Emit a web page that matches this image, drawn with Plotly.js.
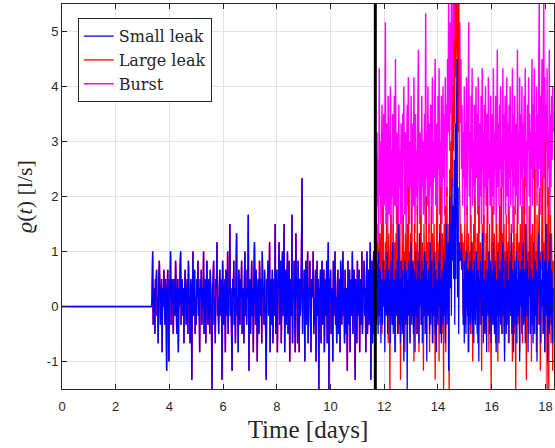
<!DOCTYPE html>
<html>
<head>
<meta charset="utf-8">
<script src="https://cdn.plot.ly/plotly-3.0.1.min.js"></script>
<style>html,body{margin:0;padding:0;background:#fff;}#chart{width:555px;height:448px;}</style>
</head>
<body>
<div id="chart"></div>
<script>
// ---- data ----
const seriesNames = ["Small leak", "Large leak", "Burst"];
const samplesPerDay = 48;   // half-hourly samples
const startSlot = 160;      // end of the flat zero segment (day 3.33)
const onsetSlot = 560;      // vertical black line (day 11.67)

// values shared by all three series, from startSlot to onsetSlot
const preOnset = [
  0, .17, 1, -.33, .33, .17, -.5, .5, .33, .67, -.17, .17, -.67, .5, .83, .33, -.33, .17, .5, -.83,
  .33, 0, .67, .17, -.33, .5, .17, -1.17, .33, .67, -.17, -1, .5, .17, 1, -.33, .33, .5, 0, -.5,
  .5, .17, -.17, .83, .33, -.5, .17, .5, -.83, .33, 0, .67, 1, -.33, .17, .5, -.17, .33, -.67, .17,
  .67, .33, -.33, .17, .5, -.5, .83, .17, 0, -.67, .5, .33, -1.33, .17, 1, -.17, .33, .67, -.5, .17,
  -.33, .5, .17, .83, -.17, .33, -.83, .5, .17, .67, -.33, .33, 0, 1, -.5, .17, .5, -.67, .33, .83,
  .17, -.33, .5, .33, -.5, .67, .17, -.17, -1.5, .33, .5, .83, -.33, .17, -.67, .5, .33, 1.17, -.17, .17,
  -.5, .33, .67, -.17, .5, .17, -1.33, .83, .33, -.33, .17, .5, -.83, .67, .33, -.17, 1, -.5, .17, .33,
  1.5, -.17, .33, -.5, -1.17, .5, .17, .83, -.33, .33, -.67, .5, 1.33, -.17, .17, -.83, .67, .33, -.33, .5,
  .17, .83, -.5, .33, .17, -.67, .5, 1, -.17, .33, -.33, .67, .17, 1.67, -1.17, .33, .5, -.5, .17, .83,
  -.17, .33, -.83, .5, 1.17, .17, -.33, .67, .33, -1, .17, .5, -.5, .83, .33, -.17, .5, -.67, 1, .17,
  .33, -.33, .67, .17, -.5, -1.33, .5, .33, .83, -.17, .17, 1.17, -.83, .33, .5, -.33, .67, -.67, .17, .5,
  -.17, 1.5, -.5, .17, .67, -.83, .33, .5, 1.17, -.33, .17, .83, -.67, .33, 1, -.17, .5, 1.5, -.83, .17,
  .67, -.33, .33, 1, -.5, .17, .83, -1, .33, .5, -.17, 1.67, -.67, .33, .17, .83, -.33, -.83, 1.33, .17,
  .5, -.67, .83, .33, -.83, .5, -.17, .17, 1, 2.33, -.5, .33, .17, .67, -1, .5, .83, -.33, .17, 1,
  -.67, .33, .17, .83, -.17, -.83, .5, .17, .33, 1, -.5, .17, -.33, .67, -1, .33, .83, -.17, .5, -1.5,
  .33, .17, .67, -.67, .5, .83, -.33, .17, .67, -.83, .33, .5, -.17, .83, -.67, .33, 1.17, -1.5, .5, .17,
  .67, -.5, .33, .17, -1, .83, -.17, .5, 1, -.33, .17, -.67, .33, .67, -.5, .17, .5, -.83, .83, .33,
  -.33, .5, 1, -.17, .33, -.67, .67, .17, -.5, .33, -1.17, .83, .17, -.33, .67, -.83, .5, .17, -.17, 1,
  -.5, .17, .67, .33, -1.33, .5, .17, -.67, .83, -.17, .33, .67, -.83, .33, .5, -.33, 1, -.5, .17, .33,
  .83, -.17, .33, -.83, .5, 1, -.5, .17, .67, -.33, .33, 1.17, -1.33, .17, .83, -.67, .33, 1, -.5, .5,
  .83
];

// values after the onset (slot 561 onwards)
const smallPost = [
  .5, -.33, .83, .17, -.5, 1, -.17, .33, .67, -.67, .5, .17, -.33, .83, 0, .5, -.83, .67, .33, -.17,
  1, -.5, .33, .67, -.17, .5, -.67, .83, .17, -.33, 1.17, -.5, .5, .17, -.83, .67, .33, -.17, .83, -.5,
  .33, 1.5, -.33, .5, -.67, .83, .17, -.5, .67, 0, -1, .5, .83, -.33, .33, .67, -1.5, .5, -.17, .83,
  .17, -.67, .5, 1.17, -.33, .33, .83, -.5, .67, .17, -.83, 1, -.17, .5, -.5, .83, .33, -.67, 1.33, 0,
  .5, -.33, .83, -.67, .17, .67, -.17, 1, -.5, .33, .83, -1, .5, -.17, .67, .17, -.5, 1.17, -.33, .5,
  .83, -.67, .33, -.17, 1, .17, -.5, .67, -.83, .5, .33, -.33, .83, 0, 1.33, -.5, .5, -.67, .67, .17,
  -.33, 1, -.17, .83, -.67, .5, 1.5, -.33, .83, 1.17, -1.17, .67, 2, .33, 1.5, -.17, 2.33, .83, 1.83, .5,
  2.67, -.33, 3.33, .5, 3.5, 4.5, .17, 2.17, -.5, 1.17, .83, 1, .83, 1.17, .67, .83, -.33, .5, -.67, .83,
  .17, -.5, 1, .33, -.17, .67, -.83, .5, .83, -.33, .17, 1.17, -.5, .67, .33, -.67, .83, 0, -.33, .5,
  1, -.5, .33, .67, -1, .5, .17, .83, -.33, .67, -.17, 1.33, -.67, .33, .5, -.5, .83, .17, -.83, .67,
  .33, -.17, 1, -.5, .5, .83, -.67, .17, .67, -.33, 1.17, 0, -.5, .83, .33, -.83, .5, -.17, 1, .17,
  -.67, .67, .33, -.33, .83, -.5, .5, 1.17, -.17, .33, -1, .83, .17, -.5, .67, 1, -.33, .5, -.67, .83,
  .17, -.17, 1.33, -.5, .5, .67, -.83, .33, .83, -.33, .17, 1, -.67, .5, -.17, .83, .33, -1, .67, 0,
  .83, -.5, .5, 1.17, -.33, .17, .67, -.67, 1.5, .33, -.17, .83, -.83, .5, .17, 1, -.5, .33, .67, -.33,
  .5, -.67, 1.17, .17, -.5, .83, -.17, .67, -1, .33, .5, 1.33, -.33, .17, .83, -.67, .5, 0, 1, -.5,
  .33, .83, -.83, .5, 1.5, -.17, .67, -1, .33, .83, -.5, 1.33, .17, -.33, .67, .5, -.67, .33
];

const largePost = [
  1, .5, 1.5, .17, 1.17, .67, -.33, 1.33, .5, .83, 1.5, -.5, 1, 1.83, .33, .83, -.17, 1.17, .67, 1.5,
  .17, 1, -.67, 1.33, .5, -1.5, .83, 1.67, .33, 1, -.33, 1.5, .67, .17, 1.17, -.83, 1.33, .5, 1.83, .17,
  1, -.5, .67, 1.5, -1.33, .83, .33, 1.17, -.17, 1.67, .5, 1, -.83, 1.33, .17, .83, 1.5, -.33, 2.17, .67,
  1, -.67, 1.33, .33, 1.83, -.17, .83, .5, -1, 1.5, .17, 1.17, .67, -.5, 1.83, .33, 1, -.83, 1.33, .5,
  1.67, -.33, .83, 1.17, .17, -1.17, 1.5, .5, 1, -.5, 2, .33, 1.17, -.17, .67, 1.5, -.83, 1, .5, 1.83,
  .17, 1.33, -.67, .83, 1.5, .33, -1.33, 1, .5, 1.83, -.17, 1.17, .67, -1, 1.5, .17, 2.17, .5, -.5, 1.33,
  .83, -1.5, 1.5, .33, 1.83, -.83, 1, 2.17, .5, 1.5, -.33, -1.5, 2.5, 1.17, 3, 1.5, 3.5, 2.17, 4, 2.83,
  4.83, 3.33, 5.5, 4.17, 5.5, 5.5, 4.5, 3.17, 5.5, 2.5, 1.83, 1, 1.5, .67, 1.33, .83, -.17, 1.17, .5, 1.5,
  -.33, 1, .67, 1.83, .17, -.83, 1.33, .5, 1, -.5, 1.67, .33, 1.17, -1, .83, 1.5, .17, 2, -.17, 1,
  .5, 1.33, -.67, .83, 1.83, .33, -.33, 1.17, .67, -1.17, 1.5, .17, 1, 1.67, -.5, .83, .5, 1.33, -.17, 2.17,
  .33, 1, -.83, 1.5, .67, .17, -1.5, 1.17, .5, 1.83, -.33, .83, 1.33, .17, -.67, 1, 1.5, .33, -1, 1.17,
  .67, 1.83, -.17, .5, 2.17, .17, 1.33, -.5, .83, 1.5, -.83, 1, .33, 1.67, -.33, .67, 1.17, -.67, 1.83, .5,
  1, -.17, 1.5, .33, -1, 1.17, .67, 1.83, -.5, .17, -1.5, 1.33, .83, 2, -.33, .5, 1.17, -.83, 1.5, .67,
  .17, 1.83, -.67, 1, .5, 2.33, -.17, 1.17, .67, -1.33, 1.5, .33, 1, -.5, 1.83, .83, .17, 1.33, -1, .67,
  1.5, .33, -.5, 1.17, 2.5, .17, 1, -.83, 1.67, .5, -.33, 1.33, 2.17, .17, -1.17, 1, .67, 1.83, 2.33, -.5,
  1.17, .5, -.83, 3, .33, 1.5, -1.5, .83, 2.17, -1.5, 1, .17, 1.67, -.67, 1.33, .5, -1.17, .83
];

const burstPost = [
  2.5, 1.33, 3.17, 1.83, 2.67, 1.17, 4.33, 2, 3, 1.5, 2.83, 3.67, 1.17, 2.33, 3.5, 1.83, 2.67, 5.17, 1.5, 3.33,
  2.17, 1, 3.83, 2.5, 1.67, 3, 4, 1.33, 2.83, 2, 3.5, 1.17, 2.67, 3.83, 1.83, 4.5, 2.33, 1.5, 3.17, 2.5,
  1, 3.67, 2.17, 2.83, 1.5, 3.33, 2, 1.17, 3.5, 2.67, 4, 1.67, 2.5, 3.17, 1.33, 2.83, 3.67, 1.83, 4.17, 2.33,
  1.5, 3, 2.17, 3.83, 1.17, 2.5, 3.33, 1.83, 4.17, 2.67, 1.33, 3.5, 2, 2.83, 1.67, 3.67, 4.67, 2.33, 1.5, 3.17,
  2.5, 1, 3.83, 2.17, 3, 1.67, 2.67, 3.5, 1.5, 5.33, 2.33, 3.17, 1.83, 4, 2.5, 1.33, 3.33, 2.17, 3.67, 1.83,
  2.83, 4.17, 1.5, 3, 2.33, 3.67, 4.5, 1.83, 2.67, 3.33, 1.17, 3.83, 2.5, 4.33, 1.67, 3, 2.17, 3.83, 1.5, 2.83,
  4, 2.33, 3.5, 1.67, 4.17, 2.83, 3.67, 2, 4.5, 3.17, 5.5, 3.67, 2.83, 5.17, 3.5, 5.5, 4.17, 3, 5.5, 4.33,
  5.5, 5.5, 4.83, 5.5, 5.5, 5.5, 5.5, 4.5, 5.5, 3.83, 5.17, 3.33, 4.5, 2.5, 3.67, 1.83, 3.17, 2.33, 4, 1.5,
  3.33, 2.17, 4.17, 1.67, 2.83, 3.5, 5.17, 2, 3.17, 1.33, 3.83, 2.5, 4.33, 1.83, 3, 2.17, 3.67, 1.17, 2.83, 4,
  2.33, 3.5, 1.67, 4.17, 2.67, 1.33, 3.33, 2, 3.83, 1.5, 4.33, 2.5, 3.17, 1.17, 3.67, 2.17, 4, 1.83, 2.83, 3.5,
  1.5, 4.17, 2.33, 3, 1.83, 3.83, 2.67, 1.17, 3.5, 2, 4.33, 1.67, 3.17, 2.5, 3.83, 1.33, 2.83, 4.67, 2.17, 3.33,
  1.83, 3.67, 2.5, 4, 1.5, 3, 2.17, 4.33, 1.17, 3.5, 2.67, 3.83, 1.67, 2.83, 4.17, 2, 3.33, 1.5, 3.67, 2.33,
  4, 1.83, 3.17, 2.5, 4.33, 1.33, 3.5, 2.17, 3.83, 1.67, 2.83, 3.33, 2, 4.67, 1.5, 3.17, 2.67, 4.17, 1.83, 3.5,
  2.33, 4, 1.17, 3.33, 2.5, 3.83, 1.67, 4.33, 2.17, 3, 1.5, 3.67, 2.83, 4.17, 2, 3.5, 1.33, 3.17, 2.5, 4.5,
  1.83, 3.67, 2.33, 4.33, 1.5, 3.17, 2.67, 4, 1.83, 3.5, 2.17, 4.17, 5.5, 2.5, 3.83, 1.67, 3.33, 4.5, 2, 3,
  5.5, 2.33, 4.17, 1.5, 3.67, 2.83, 4.33, 1.83, 3.17, 2.5, 4.67, 1.33, 3.5, 2.17, 3.83, 2.67, 4, 3.17
];

const xTickVals = [0, 2, 4, 6, 8, 10, 12, 14, 16, 18];
const yTickVals = [-1, 0, 1, 2, 3, 4, 5];
const yTickText = ["-1", "0", "1", "2", "3", "4", "5"];
const colors = ["#0000ff", "#ff0000", "#ff00ff"];
const widths = [1.25, 1.3, 1.45];

// ---- build traces ----
function buildSeries(post) {
  const y = [0].concat(preOnset, post);
  const x = [0];
  for (let i = 0; i < preOnset.length + post.length; i++) {
    x.push((startSlot + i) / samplesPerDay);
  }
  return {x: x, y: y};
}
const posts = [smallPost, largePost, burstPost];
const traces = [];
// draw Burst first, Small leak last (on top)
for (let k = 2; k >= 0; k--) {
  const s = buildSeries(posts[k]);
  traces.push({
    type: "scatter", mode: "lines", x: s.x, y: s.y, name: seriesNames[k],
    line: {color: colors[k], width: widths[k], simplify: false},
    hoverinfo: "skip"
  });
}

const serif = "Liberation Serif, DejaVu Serif, serif";
const tickFont = {family: "Liberation Sans, Arial, sans-serif", size: 13, color: "#262626"};
const layout = {
  width: 555, height: 448,
  margin: {l: 62, r: 1, t: 4, b: 59},
  paper_bgcolor: "#ffffff", plot_bgcolor: "#ffffff",
  showlegend: true,
  legend: {
    x: 0.032, y: 0.963, xanchor: "left", yanchor: "top",
    traceorder: "reversed",
    bgcolor: "#ffffff", bordercolor: "#262626", borderwidth: 1,
    font: {family: "DejaVu Serif, serif", size: 16, color: "#262626"},
    tracegroupgap: 0
  },
  xaxis: {
    range: [0, 18.32], tickvals: xTickVals, ticktext: xTickVals.map(String),
    ticks: "inside", ticklen: 5, tickcolor: "#262626", tickwidth: 1,
    showline: true, linecolor: "#262626", linewidth: 1, mirror: "ticks",
    showgrid: true, gridcolor: "#e3e3e3", gridwidth: 1, zeroline: false,
    tickfont: tickFont, ticklabelstandoff: 5,
    title: {text: "Time [days]", font: {family: serif, size: 25, color: "#262626"}, standoff: 7}
  },
  yaxis: {
    range: [-1.5, 5.5], tickvals: yTickVals, ticktext: yTickText,
    ticks: "inside", ticklen: 5, tickcolor: "#262626", tickwidth: 1,
    showline: true, linecolor: "#262626", linewidth: 1, mirror: "ticks",
    showgrid: true, gridcolor: "#e3e3e3", gridwidth: 1, zeroline: false,
    tickfont: tickFont,
    title: {text: "<i>ϱ</i>(<i>t</i>) [l/s]", font: {family: serif, size: 22, color: "#262626"}, standoff: 8}
  },
  shapes: [{
    type: "line", xref: "x", yref: "paper",
    x0: onsetSlot / samplesPerDay, x1: onsetSlot / samplesPerDay, y0: 0, y1: 1,
    line: {color: "#000000", width: 3}
  }]
};

Plotly.newPlot("chart", traces, layout, {displayModeBar: false, staticPlot: true});
</script>
</body>
</html>
